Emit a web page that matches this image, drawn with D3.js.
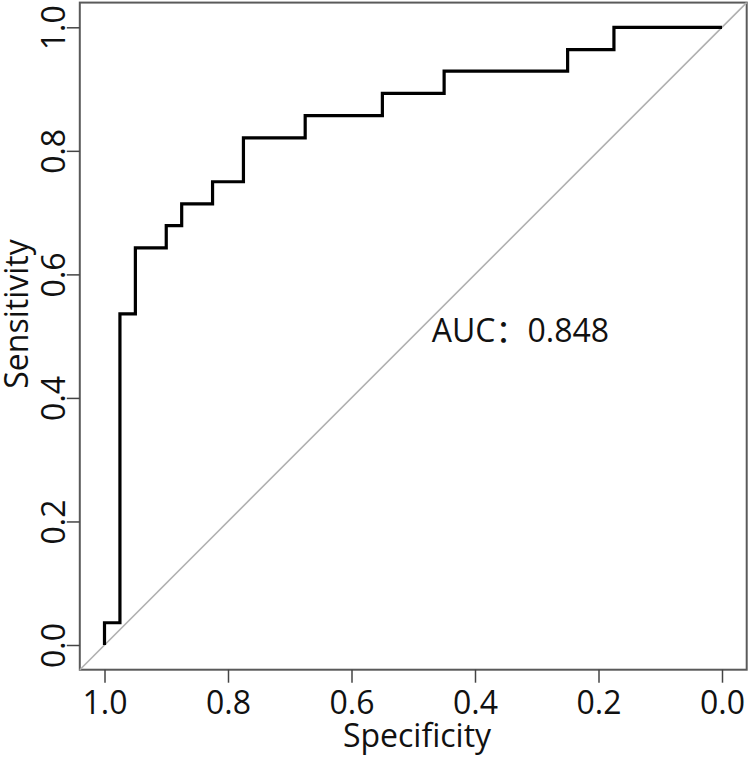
<!DOCTYPE html>
<html>
<head>
<meta charset="utf-8">
<script src="https://cdn.jsdelivr.net/npm/d3@7"></script>
<style>
  body { margin: 0; background: #fff; }
  svg text { font-family: "Open Sans", "Noto Sans CJK SC", sans-serif; fill: #111; }
</style>
</head>
<body>
<svg id="canvas" width="750" height="757"></svg>
<script>
// ROC corner points (step curve)
let specificity = [1, 0.975, 0.95, 0.9, 0.875, 0.825, 0.775, 0.675, 0.55, 0.45, 0.25, 0.175, 0]
let sensitivity = [0, 0.036, 0.536, 0.643, 0.679, 0.714, 0.75, 0.821, 0.857, 0.893, 0.929, 0.964, 1]

let tickValues = [1, 0.8, 0.6, 0.4, 0.2, 0]
let aucLabel = 'AUC：0.848'

let svg = d3.select('#canvas')

// R style: 4% padding round the data range, reversed specificity axis
let xScale = d3.scaleLinear().domain([1, 0]).range([104.5, 722])
let yScale = d3.scaleLinear().domain([0, 1]).range([645, 27.3])

let pad = 0.04

// plot box
svg.append('rect')
    .attr('x', xScale(1 + pad))
    .attr('y', yScale(1 + pad))
    .attr('width', xScale(-pad) - xScale(1 + pad))
    .attr('height', yScale(-pad) - yScale(1 + pad))
    .attr('fill', 'none')
    .attr('stroke', '#5a5a5a')
    .attr('stroke-width', 2)

// reference diagonal
svg.append('line')
    .attr('x1', xScale(1 + pad))
    .attr('y1', yScale(-pad))
    .attr('x2', xScale(-pad))
    .attr('y2', yScale(1 + pad))
    .attr('stroke', '#b0b0b0')
    .attr('stroke-width', 1.6)

// ROC curve
let points = specificity.map((s, i) => [s, sensitivity[i]])

let rocLine = d3.line()
    .x((d) => xScale(d[0]))
    .y((d) => yScale(d[1]))
    .curve(d3.curveStepBefore)

svg.append('path')
    .datum(points)
    .attr('d', rocLine)
    .attr('fill', 'none')
    .attr('stroke', '#000')
    .attr('stroke-width', 3.2)

// axes
let xAxis = d3.axisBottom(xScale)
    .tickValues(tickValues)
    .tickFormat(d3.format('.1f'))
    .tickSize(13)
    .tickSizeOuter(0)

let yAxis = d3.axisLeft(yScale)
    .tickValues(tickValues)
    .tickFormat(d3.format('.1f'))
    .tickSize(13)
    .tickSizeOuter(0)

let gx = svg.append('g')
    .attr('transform', 'translate(0,' + yScale(-pad) + ')')
    .call(xAxis)

let gy = svg.append('g')
    .attr('transform', 'translate(' + xScale(1 + pad) + ',0)')
    .call(yAxis)

for (let g of [gx, gy]) {
    g.select('.domain').remove()
    g.selectAll('.tick line').attr('stroke', '#444').attr('stroke-width', 1.5)
    g.selectAll('.tick text')
        .style('font-size', '32px')
        .attr('fill', '#111')
}

gx.selectAll('.tick text')
    .attr('y', 44)
    .attr('dy', 0)

gy.selectAll('.tick text')
    .attr('x', 0)
    .attr('dy', 0)
    .attr('text-anchor', 'middle')
    .attr('transform', 'translate(-15,0) rotate(-90)')

// axis titles
svg.append('text')
    .attr('x', 417)
    .attr('y', 747)
    .attr('text-anchor', 'middle')
    .style('font-size', '32px')
    .text('Specificity')

svg.append('text')
    .attr('transform', 'translate(28,314) rotate(-90)')
    .attr('text-anchor', 'middle')
    .style('font-size', '32px')
    .text('Sensitivity')

// AUC label
svg.append('text')
    .attr('x', xScale(0.47))
    .attr('y', yScale(0.49))
    .style('font-size', '32px')
    .text(aucLabel)
</script>
</body>
</html>
